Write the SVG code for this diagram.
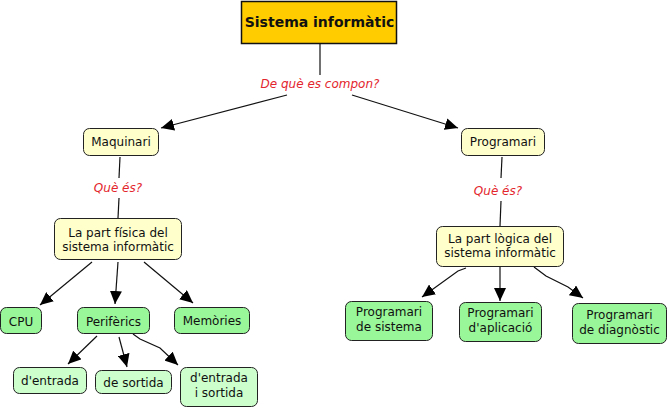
<svg xmlns="http://www.w3.org/2000/svg" width="669" height="409" viewBox="0 0 669 409">
<defs>
<marker id="ah" markerUnits="userSpaceOnUse" markerWidth="14" markerHeight="12" refX="13" refY="6" orient="auto">
<path d="M0,0 L13,6 L0,12 Z" fill="#000"/>
</marker>
<style>
.t{font-family:"DejaVu Sans",Verdana,sans-serif;font-size:12px;fill:#111;text-anchor:middle}
.lbl{font-family:"DejaVu Sans",Verdana,sans-serif;font-size:12px;font-style:italic;fill:#e3262e;text-anchor:middle}
.y{fill:#ffffcc;stroke:#222;stroke-width:1}
.g{fill:#99f799;stroke:#222;stroke-width:1}
.lg{fill:#ccffcc;stroke:#222;stroke-width:1}
.c{fill:none;stroke:#111;stroke-width:1.2}
.a{fill:none;stroke:#111;stroke-width:1.2;marker-end:url(#ah)}
</style>
</defs>
<rect width="669" height="409" fill="#fff"/>
<g id="connectors">
<line class="c" x1="320" y1="44" x2="320" y2="75"/>
<line class="a" x1="287" y1="95" x2="161" y2="128"/>
<line class="a" x1="352" y1="95" x2="458" y2="128"/>
<line class="c" x1="120" y1="157" x2="119" y2="178"/>
<line class="c" x1="119" y1="198" x2="118" y2="218"/>
<line class="c" x1="502" y1="157" x2="501" y2="178"/>
<line class="c" x1="501" y1="201" x2="500" y2="226"/>
<line class="a" x1="92" y1="262" x2="40" y2="305"/>
<line class="a" x1="118" y1="262" x2="115" y2="304"/>
<line class="a" x1="144" y1="262" x2="193" y2="303"/>
<line class="a" x1="97" y1="336" x2="68" y2="364"/>
<line class="a" x1="119" y1="337" x2="127" y2="367"/>
<path class="a" d="M133,334 L140,339 L160,348 L178,365"/>
<path class="a" d="M466,268 L458,271 L422,297"/>
<line class="a" x1="500" y1="266" x2="500" y2="301"/>
<path class="a" d="M534,267 L546,276 L568,287 L583,298"/>
</g>
<g id="n-sistema">
<rect x="241.5" y="1.5" width="155" height="42" fill="#ffcc00" stroke="#111" stroke-width="1.5"/>
<text x="319.5" y="27" class="t" style="font-weight:bold;font-size:14px">Sistema informàtic</text>
</g>
<g id="l-compon"><text x="320" y="88" class="lbl">De què es compon?</text></g>
<g id="n-maquinari">
<rect class="y" x="83.5" y="128.5" width="75" height="27" rx="6"/>
<text x="121" y="146" class="t">Maquinari</text>
</g>
<g id="n-programari">
<rect class="y" x="461.5" y="128.5" width="83" height="27" rx="6"/>
<text x="503" y="146" class="t">Programari</text>
</g>
<g id="l-que1"><text x="118" y="192" class="lbl">Què és?</text></g>
<g id="l-que2"><text x="498" y="195" class="lbl">Què és?</text></g>
<g id="n-fisica">
<rect class="y" x="54.5" y="218.5" width="127" height="41" rx="6"/>
<text x="118" y="237" class="t">La part física del</text>
<text x="118" y="251" class="t">sistema informàtic</text>
</g>
<g id="n-logica">
<rect class="y" x="436.5" y="226.5" width="127" height="40" rx="6"/>
<text x="500" y="243" class="t">La part lògica del</text>
<text x="500" y="257" class="t">sistema informàtic</text>
</g>
<g id="n-cpu">
<rect class="g" x="0.5" y="307.5" width="41" height="26" rx="6"/>
<text x="21" y="326" class="t">CPU</text>
</g>
<g id="n-perif">
<rect class="g" x="77.5" y="307.5" width="72" height="26" rx="6"/>
<text x="113.5" y="326" class="t">Perifèrics</text>
</g>
<g id="n-mem">
<rect class="g" x="174.5" y="307.5" width="75" height="26" rx="6"/>
<text x="212" y="325" class="t">Memòries</text>
</g>
<g id="n-entrada">
<rect class="lg" x="13.5" y="367.5" width="73" height="26" rx="6"/>
<text x="50" y="385" class="t">d'entrada</text>
</g>
<g id="n-sortida">
<rect class="lg" x="95.5" y="370.5" width="76" height="23" rx="6"/>
<text x="133.5" y="387" class="t">de sortida</text>
</g>
<g id="n-es">
<rect class="lg" x="180.5" y="367.5" width="77" height="39" rx="6"/>
<text x="219" y="382" class="t">d'entrada</text>
<text x="219" y="397" class="t">i sortida</text>
</g>
<g id="n-psis">
<rect class="g" x="345.5" y="301.5" width="87" height="39" rx="6"/>
<text x="389" y="316" class="t">Programari</text>
<text x="389" y="331" class="t">de sistema</text>
</g>
<g id="n-papl">
<rect class="g" x="459.5" y="302.5" width="82" height="39" rx="6"/>
<text x="500.5" y="317" class="t">Programari</text>
<text x="500.5" y="332" class="t">d'aplicació</text>
</g>
<g id="n-pdiag">
<rect class="g" x="572.5" y="303.5" width="94" height="40" rx="6"/>
<text x="619.5" y="319" class="t">Programari</text>
<text x="619.5" y="334" class="t">de diagnòstic</text>
</g>
</svg>
